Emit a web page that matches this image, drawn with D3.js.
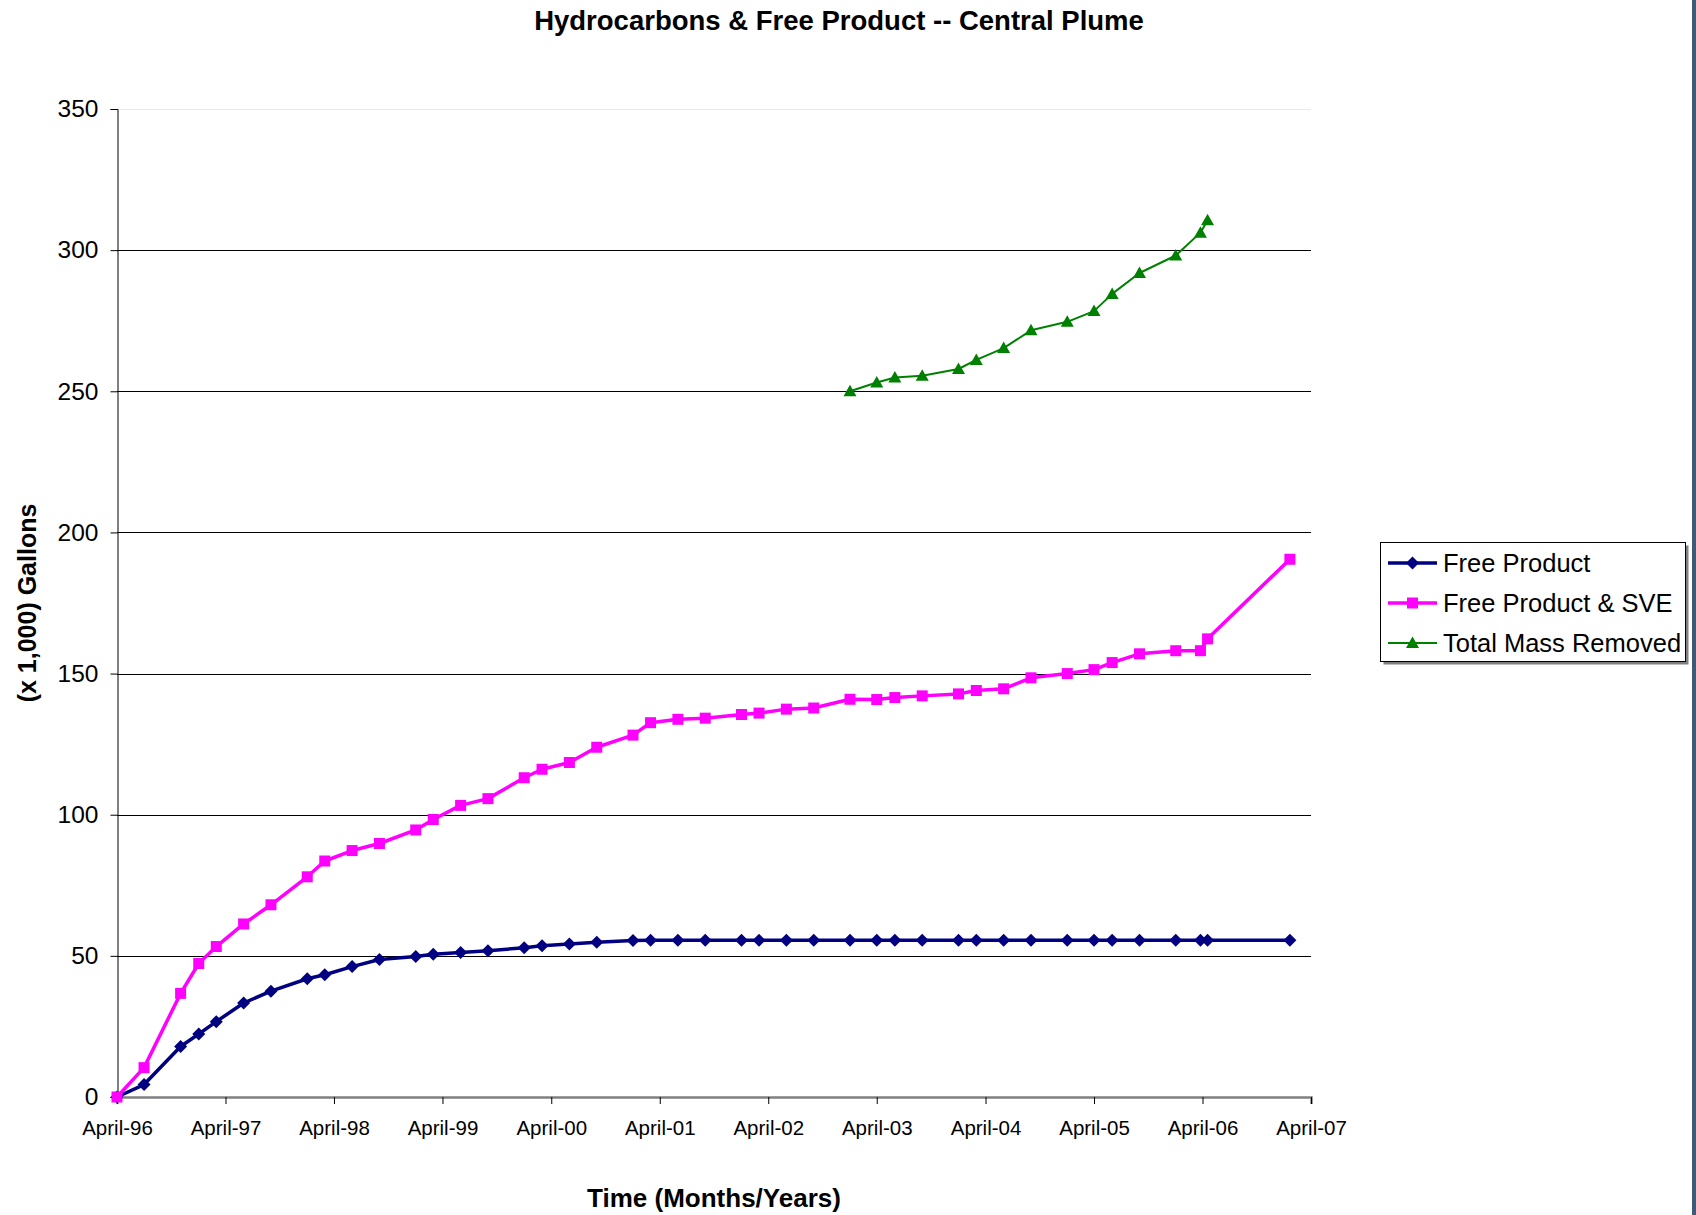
<!DOCTYPE html>
<html>
<head>
<meta charset="utf-8">
<script src="https://cdn.jsdelivr.net/npm/d3@7"></script>
<style>
  html, body { margin: 0; padding: 0; background: #fff; }
  svg { display: block; font-family: "Liberation Sans", Arial, sans-serif; }
</style>
</head>
<body>
<svg id="chart" width="1696" height="1215"></svg>
<script>
// ---- data ----
const dates = ["1996-04-01","1996-07-01","1996-11-01","1997-01-01","1997-03-01","1997-06-01","1997-09-01",
  "1998-01-01","1998-03-01","1998-06-01","1998-09-01","1999-01-01","1999-03-01","1999-06-01","1999-09-01",
  "2000-01-01","2000-03-01","2000-06-01","2000-09-01","2001-01-01","2001-03-01","2001-06-01","2001-09-01",
  "2002-01-01","2002-03-01","2002-06-01","2002-09-01","2003-01-01","2003-04-01","2003-06-01","2003-09-01",
  "2004-01-01","2004-03-01","2004-06-01","2004-09-01","2005-01-01","2005-04-01","2005-06-01","2005-09-01",
  "2006-01-01","2006-03-25","2006-04-18","2007-01-20"];
const freeProduct = [0,4.4,17.9,22.3,26.7,33.3,37.5,41.9,43.3,46.2,48.7,49.8,50.6,51.2,51.8,52.9,53.6,54.2,54.8,55.4,
  55.5,55.5,55.5,55.5,55.5,55.5,55.5,55.5,55.5,55.5,55.5,55.5,55.5,55.5,55.5,55.5,55.5,55.5,55.5,55.5,55.5,55.5,55.5];
const freeProductSVE = [0,10.4,36.7,47.3,53.3,61.3,68.1,78.0,83.6,87.3,89.8,94.6,98.3,103.3,105.7,113.1,116.1,118.5,
  123.9,128.2,132.6,133.8,134.2,135.5,136.0,137.4,137.8,140.9,140.8,141.5,142.1,142.8,144.0,144.6,148.5,150.0,
  151.4,153.9,157.0,158.1,158.1,162.3,190.5];
const massDates = ["2003-01-01","2003-04-01","2003-06-01","2003-09-01","2004-01-01","2004-03-01","2004-06-01",
  "2004-09-01","2005-01-01","2005-04-01","2005-06-01","2005-09-01","2006-01-01","2006-03-25","2006-04-18"];
const totalMass = [250.0,253.1,254.9,255.5,257.9,261.1,265.3,271.6,274.6,278.4,284.5,291.9,298.1,306.2,310.6];
const xTickDates = ["1996-04-01","1997-04-01","1998-04-01","1999-04-01","2000-04-01","2001-04-01",
  "2002-04-01","2003-04-01","2004-04-01","2005-04-01","2006-04-01","2007-04-01"];
const xTickLabels = ["April-96","April-97","April-98","April-99","April-00","April-01",
  "April-02","April-03","April-04","April-05","April-06","April-07"];
const yTicks = [0,50,100,150,200,250,300,350];
const seriesNames = ["Free Product","Free Product & SVE","Total Mass Removed"];
const seriesColors = ["#000080","#FF00FF","#008000"];

// ---- layout ----
const parse = d3.timeParse("%Y-%m-%d");
const svg = d3.select("#chart");
const L = 117, R = 1311, T = 109, B = 1097;

const x = d3.scaleTime().domain([parse(xTickDates[0]), parse(xTickDates[xTickDates.length-1])]).range([L, R]);
const y = d3.scaleLinear().domain([0, 350]).range([B, T]);

svg.append("rect").attr("width",1696).attr("height",1215).attr("fill","#fff");

// gridlines
svg.append("g").selectAll("line").data(yTicks.filter(v => v > 0)).join("line")
  .attr("x1", L).attr("x2", R)
  .attr("y1", d => Math.round(y(d)) + 0.5).attr("y2", d => Math.round(y(d)) + 0.5)
  .attr("stroke", d => d === 350 ? "#e8e8e8" : "#000").attr("stroke-width", 1);

// y axis
const yAxis = d3.axisLeft(y).tickValues(yTicks).tickSize(7).tickPadding(12).tickFormat(d3.format("d"));
const gy = svg.append("g").attr("transform", `translate(${L + 0.5},0)`).call(yAxis);
gy.select(".domain").attr("stroke", "#000");
gy.selectAll(".tick line").attr("stroke", "#000");
gy.selectAll("text").attr("font-size", 24.5).attr("fill", "#000")
  .attr("font-family", "'Liberation Sans', Arial, sans-serif");

// x axis
const xAxis = d3.axisBottom(x).tickValues(xTickDates.map(parse)).tickSize(7).tickPadding(16)
  .tickFormat((d, i) => xTickLabels[i]);
const gx = svg.append("g").attr("transform", `translate(0,${B})`).call(xAxis);
gx.select(".domain").attr("stroke", "#808080").attr("stroke-width", 2.5);
gx.selectAll(".tick line").attr("stroke", "#000");
gx.selectAll("text").attr("font-size", 20.5).attr("fill", "#000")
  .attr("font-family", "'Liberation Sans', Arial, sans-serif");

// series
const markers = {
  diamond: "M0,-6.5L6.5,0L0,6.5L-6.5,0Z",
  square: "M-5.5,-5.5H5.5V5.5H-5.5Z",
  triangle: "M0,-6.5L6.5,5L-6.5,5Z"
};
const series = [
  { name: seriesNames[0], color: seriesColors[0], width: 3.5, marker: markers.diamond,
    pts: dates.map((d, i) => [parse(d), freeProduct[i]]) },
  { name: seriesNames[1], color: seriesColors[1], width: 3.5, marker: markers.square,
    pts: dates.map((d, i) => [parse(d), freeProductSVE[i]]) },
  { name: seriesNames[2], color: seriesColors[2], width: 2, marker: markers.triangle,
    pts: massDates.map((d, i) => [parse(d), totalMass[i]]) }
];
const line = d3.line().x(d => x(d[0])).y(d => y(d[1]));
series.forEach(s => {
  const g = svg.append("g");
  g.append("path").datum(s.pts).attr("d", line).attr("fill", "none")
    .attr("stroke", s.color).attr("stroke-width", s.width).attr("stroke-linejoin", "round");
  g.selectAll("path.m").data(s.pts).join("path").attr("class", "m")
    .attr("d", s.marker).attr("fill", s.color)
    .attr("transform", d => `translate(${x(d[0])},${y(d[1])})`);
});

// title & axis titles
svg.append("text").attr("x", 839).attr("y", 29.5).attr("text-anchor", "middle")
  .attr("font-size", 27.5).attr("font-weight", "bold").text("Hydrocarbons & Free Product -- Central Plume");
svg.append("text").attr("x", 714).attr("y", 1207).attr("text-anchor", "middle")
  .attr("font-size", 26).attr("font-weight", "bold").text("Time (Months/Years)");
svg.append("text").attr("transform", "translate(36,603) rotate(-90)").attr("text-anchor", "middle")
  .attr("font-size", 25).attr("font-weight", "bold").text("(x 1,000) Gallons");

// legend
const lg = svg.append("g");
lg.append("rect").attr("x", 1383.5).attr("y", 545.5).attr("width", 305).attr("height", 119).attr("fill", "#808080");
lg.append("rect").attr("x", 1380.5).attr("y", 542.5).attr("width", 305).attr("height", 119)
  .attr("fill", "#fff").attr("stroke", "#000").attr("stroke-width", 1);
series.forEach((s, i) => {
  const cy = 563 + i * 40;
  lg.append("line").attr("x1", 1388).attr("x2", 1437).attr("y1", cy).attr("y2", cy)
    .attr("stroke", s.color).attr("stroke-width", s.width);
  lg.append("path").attr("d", s.marker).attr("fill", s.color).attr("transform", `translate(1412.5,${cy})`);
  lg.append("text").attr("x", 1443).attr("y", cy + 9).attr("font-size", 25.5).text(s.name);
});

// right edge border
svg.append("rect").attr("x", 1692).attr("y", 0).attr("width", 4).attr("height", 1215).attr("fill", "#3f5a78");
</script>
</body>
</html>
